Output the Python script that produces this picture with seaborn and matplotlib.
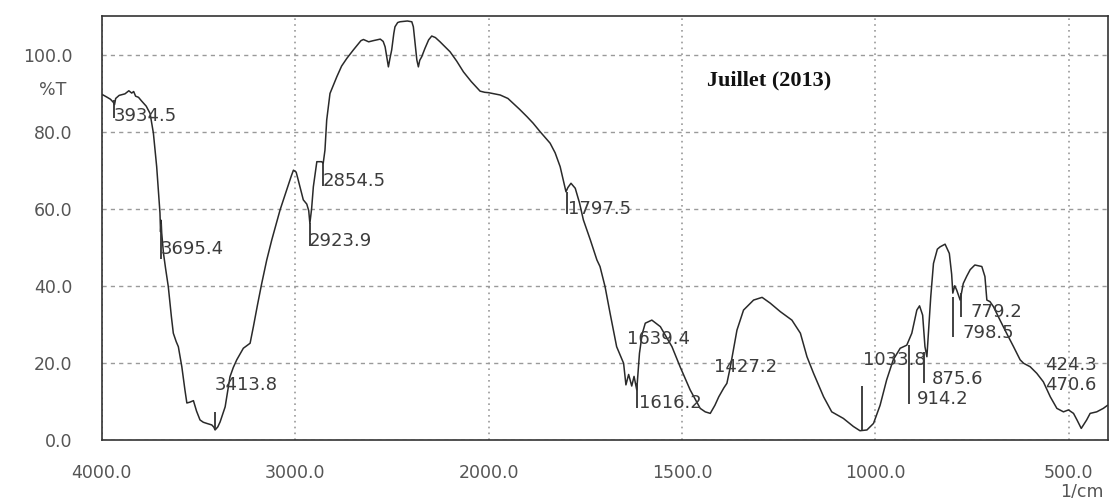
import numpy as np
import pandas as pd
import seaborn as sns
import matplotlib
matplotlib.use("Agg")
import matplotlib.pyplot as plt
from matplotlib.ticker import FixedLocator, MultipleLocator, FormatStrFormatter

# FTIR spectrum, Juillet (2013)
wavenumber = [
    4000, 3975, 3955, 3940, 3934, 3928, 3910, 3880, 3860, 3845, 3835, 3825, 3810,
    3795, 3770, 3750, 3733, 3716, 3705, 3699, 3696, 3693, 3690, 3681, 3670, 3656,
    3640, 3630, 3615, 3604, 3586, 3570, 3560, 3545, 3526, 3510, 3492, 3475, 3457,
    3431, 3420, 3414, 3400, 3388, 3362, 3337, 3320, 3302, 3268, 3233, 3216, 3195,
    3173, 3147, 3121, 3078, 3044, 3020, 3009, 2995, 2984, 2958, 2940, 2930, 2924,
    2915, 2906, 2888, 2863, 2855, 2846, 2837, 2820, 2785, 2760, 2733, 2699, 2660,
    2647, 2620, 2596, 2560, 2545, 2535, 2525, 2518, 2510, 2501, 2490, 2484, 2470,
    2458, 2420, 2397, 2389, 2380, 2371, 2363, 2356, 2346, 2329, 2310, 2294, 2275,
    2251, 2225, 2199, 2165, 2130, 2090, 2044, 2020, 2000, 1985, 1970, 1950, 1936,
    1920, 1901, 1885, 1867, 1841, 1828, 1815, 1805, 1800, 1795, 1787, 1776, 1765,
    1755, 1737, 1720, 1712, 1699, 1686, 1669, 1651, 1645, 1638, 1630, 1624, 1617,
    1610, 1603, 1595, 1578, 1556, 1526, 1505, 1479, 1453, 1440, 1427, 1415, 1405,
    1392, 1384, 1375, 1358, 1341, 1315, 1293, 1272, 1246, 1216, 1194, 1177, 1160,
    1134, 1113, 1083, 1057, 1040, 1022, 1005, 988, 971, 954, 936, 919, 906, 893,
    886, 878, 872, 867, 863, 857, 850, 840, 833, 820, 809, 803, 800, 795, 790, 781,
    773, 764, 755, 743, 725, 717, 712, 704, 695, 678, 661, 643, 626, 617, 600, 583,
    566, 548, 531, 514, 501, 488, 479, 468, 454, 445, 428, 411, 400,
]
transmittance = [
    89.7, 89.0, 88.4, 87.6, 87.0, 88.6, 89.4, 89.8, 90.6, 90.0, 90.4, 89.2, 88.9,
    88.0, 86.6, 84.7, 79.6, 70.9, 63.0, 58.9, 54.0, 57.0, 53.7, 48.5, 44.5, 39.8,
    32.0, 27.7, 25.5, 24.2, 19.0, 13.0, 9.6, 9.8, 10.2, 7.5, 5.2, 4.6, 4.3,
    3.9, 3.3, 2.6, 3.4, 4.7, 8.6, 16.4, 18.8, 20.8, 23.8, 25.1, 29.4, 35.0,
    40.6, 46.7, 51.9, 59.7, 64.9, 68.5, 70.0, 69.5, 67.4, 62.3, 61.2, 59.5, 56.2,
    60.0, 65.7, 72.2, 72.2, 71.8, 75.2, 83.0, 89.9, 94.2, 97.0, 99.0, 101.2, 103.6,
    103.9, 103.3, 103.6, 104.0, 103.4, 102.0, 99.0, 96.8, 99.0, 101.2, 105.5, 107.2, 108.3,
    108.5, 108.7, 108.5, 107.2, 103.0, 98.6, 96.8, 98.5, 99.4, 101.6, 103.8, 104.8, 104.4,
    103.3, 102.0, 100.7, 98.3, 95.5, 93.0, 90.5, 90.2, 90.1, 89.8, 89.5, 88.6, 87.3,
    85.8, 83.9, 82.2, 80.0, 77.0, 74.5, 70.9, 66.5, 64.4, 65.5, 66.6, 65.3, 61.5,
    57.1, 51.9, 46.7, 45.0, 39.8, 32.9, 24.2, 19.9, 14.3, 17.0, 14.0, 16.5, 13.0,
    22.5, 27.5, 30.3, 31.1, 29.4, 24.2, 19.0, 13.0, 8.2, 7.3, 6.9, 9.0, 11.2,
    13.5, 14.7, 19.0, 28.5, 33.7, 36.3, 37.0, 35.5, 33.3, 31.1, 27.7, 21.6, 17.3,
    11.2, 7.3, 5.6, 3.5, 2.4, 2.6, 4.3, 9.0, 15.6, 20.8, 23.8, 24.6, 27.7, 33.7,
    34.8, 32.4, 24.2, 21.6, 27.7, 37.2, 45.8, 49.5, 50.1, 50.8, 48.4, 43.0, 38.1, 40.0, 38.9, 36.3,
    40.6, 42.5, 44.2, 45.4, 45.0, 42.4, 36.3, 35.9, 34.6, 31.1, 27.7, 24.2, 20.8, 19.9, 19.0, 17.3,
    15.1, 11.2, 8.2, 7.3, 7.8, 6.9, 5.2, 3.0, 5.2, 6.9, 7.3, 8.2, 9.0,
]

# peak picks: wavenumber, marker line (from, to in %T), label anchor
peak_wn = [3934.5, 3695.4, 3413.8, 2923.9, 2854.5, 1797.5, 1639.4, 1616.2,
           1427.2, 1033.8, 914.2, 875.6, 798.5, 779.2, 424.3, 470.6]
mark_from = [88.2, 56.0, 2.6, 56.2, 71.8, 64.4, np.nan, 14.8,
             np.nan, 2.5, 24.6, 22.8, 37.1, 38.1, np.nan, np.nan]
mark_to = [83.5, 47.0, 7.3, 50.3, 65.8, 58.6, np.nan, 8.3,
           np.nan, 14.0, 9.3, 14.8, 26.7, 31.9, np.nan, np.nan]
label_x = [3940, 3693, 3414, 2928, 2856, 1794, 1642, 1611,
           1417, 1032, 892, 854, 776, 755, 562, 562]
label_y = [84.0, 49.6, 14.3, 51.6, 67.2, 59.9, 26.2, 9.6,
           18.9, 20.8, 10.6, 15.8, 27.8, 33.2, 19.5, 14.3]

major_x = [4000, 3000, 2000, 1500, 1000, 500]


def fwd(x):
    x = np.asarray(x, dtype=float)
    return np.where(x > 2000, 2000 + (x - 2000) / 2, x)


def inv(p):
    p = np.asarray(p, dtype=float)
    return np.where(p > 2000, 2000 + (p - 2000) * 2, p)


sns.set_style("white")
plt.rcParams["font.family"] = ["DejaVu Sans"]

df = pd.DataFrame({"wn": wavenumber, "T": transmittance})

fig = plt.figure(figsize=(11.12, 4.98), dpi=100)
ax = fig.add_axes([0.0915, 0.1165, 0.9045, 0.8514])

sns.lineplot(data=df, x="wn", y="T", ax=ax, color="#2a2a2a", lw=1.1,
             sort=False, estimator=None)

ax.set_xscale("function", functions=(fwd, inv))
ax.set_xlim(4000, 400)
ax.set_ylim(0, 110)

# peak markers and labels
for wn, a, b, tx, ty in zip(peak_wn, mark_from, mark_to, label_x, label_y):
    if not np.isnan(a):
        ax.vlines(wn, min(a, b), max(a, b), color="#333333", lw=1.3)
    ax.text(tx, ty, f"{wn:.1f}", ha="left", va="center", fontsize=13,
            color="#3c3c3c", clip_on=False)

# ticks
minor_x = [v for v in list(range(3800, 2000, -200)) + list(range(1900, 450, -100))
           if v not in major_x]
ax.xaxis.set_major_locator(FixedLocator(major_x))
ax.xaxis.set_minor_locator(FixedLocator(minor_x))
ax.xaxis.set_major_formatter(FormatStrFormatter("%.1f"))
ax.yaxis.set_major_locator(MultipleLocator(20))
ax.yaxis.set_minor_locator(MultipleLocator(4))
ax.yaxis.set_major_formatter(FormatStrFormatter("%.1f"))

ax.tick_params(axis="x", which="major", direction="out", length=9, width=1.2,
               pad=8, labelsize=12.5, labelcolor="#555555", color="#333333")
ax.tick_params(axis="x", which="minor", direction="out", length=5, width=1.0,
               color="#333333")
ax.tick_params(axis="y", which="major", direction="out", length=14, width=1.2,
               pad=7, labelsize=12.5, labelcolor="#555555", color="#333333")
ax.tick_params(axis="y", which="minor", direction="out", length=8, width=1.0,
               color="#333333")

ax.yaxis.grid(True, which="major", linestyle=(0, (3, 3)), color="#9a9a9a", lw=1.0)
ax.xaxis.grid(True, which="major", linestyle=(0, (1, 2.5)), color="#9a9a9a", lw=1.2)

for s in ax.spines.values():
    s.set_visible(True)
    s.set_color("#333333")
    s.set_linewidth(1.2)

ax.set_xlabel("")
ax.set_ylabel("")

fig.text(53 / 1112, 1 - 90 / 498, "%T", ha="center", va="center",
         fontsize=12.5, color="#555555")
fig.text(1082 / 1112, 1 - 491 / 498, "1/cm", ha="center", va="center",
         fontsize=12.5, color="#555555")
ax.text(0.664, 0.847, "Juillet (2013)", transform=ax.transAxes, ha="center",
        va="center", fontsize=16, fontweight="bold", color="#111111",
        family=["Liberation Serif", "DejaVu Serif"])

fig.savefig("out.png", dpi=100)
